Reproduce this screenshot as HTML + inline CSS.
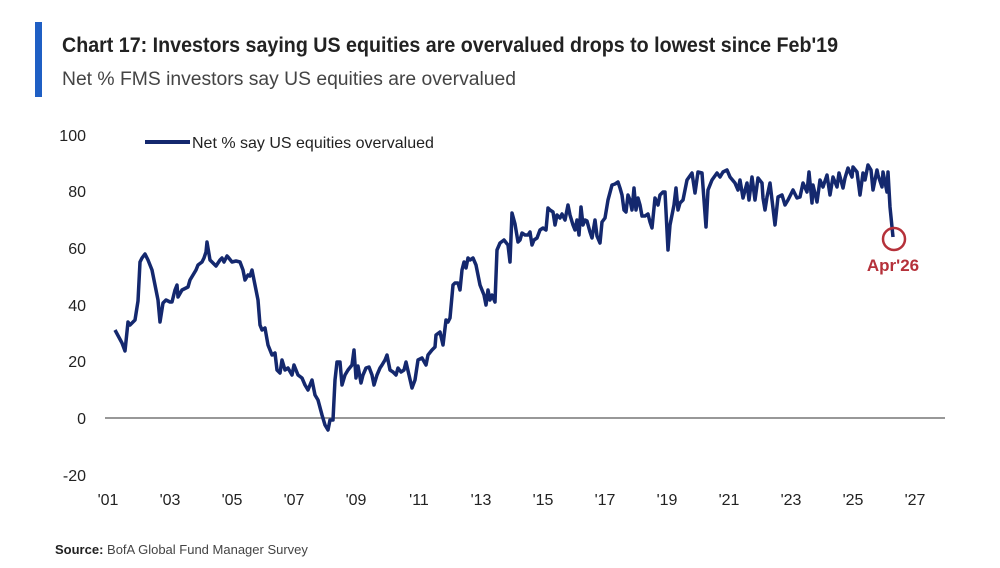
<!DOCTYPE html>
<html><head><meta charset="utf-8"><style>
body{margin:0;background:#fff;width:1000px;height:563px;overflow:hidden;font-family:"Liberation Sans",sans-serif}
</style></head><body>
<svg width="1000" height="563" viewBox="0 0 1000 563" xmlns="http://www.w3.org/2000/svg" font-family="Liberation Sans, sans-serif">
<rect x="35" y="22" width="7" height="75" fill="#1f5fc4"/>
<text x="62" y="52" font-size="21" font-weight="bold" fill="#222" textLength="776" lengthAdjust="spacingAndGlyphs">Chart 17: Investors saying US equities are overvalued drops to lowest since Feb'19</text>
<text x="62" y="85" font-size="19" fill="#444" textLength="454" lengthAdjust="spacingAndGlyphs">Net % FMS investors say US equities are overvalued</text>
<g font-size="16" fill="#222" text-anchor="end">
<text x="86" y="141">100</text><text x="86" y="197">80</text><text x="86" y="254">60</text><text x="86" y="311">40</text><text x="86" y="367">20</text><text x="86" y="424">0</text><text x="86" y="481">-20</text>
</g>
<g font-size="16" fill="#222" text-anchor="middle">
<text x="108" y="505">'01</text><text x="170" y="505">'03</text><text x="232" y="505">'05</text><text x="294" y="505">'07</text><text x="356" y="505">'09</text><text x="419" y="505">'11</text><text x="481" y="505">'13</text><text x="543" y="505">'15</text><text x="605" y="505">'17</text><text x="667" y="505">'19</text><text x="729" y="505">'21</text><text x="791" y="505">'23</text><text x="853" y="505">'25</text><text x="915" y="505">'27</text>
</g>
<line x1="105" y1="418" x2="945" y2="418" stroke="#777" stroke-width="1.5"/>
<line x1="145" y1="142" x2="190" y2="142" stroke="#14286e" stroke-width="4"/>
<text x="192" y="148" font-size="16" fill="#222">Net % say US equities overvalued</text>
<polyline fill="none" stroke="#14286e" stroke-width="3.5" stroke-linejoin="round" points="115,330 122,343 125,351 128,322 130,325 135,320 138,301 140,262 142,258 145,254 148,260 152,270 158,300 160,322 163,303 166,300 170,302 172,302 175,290 177,285 178,297 182,290 188,287 190,280 193,275 196,270 198,265 202,262 204,258 206,252 207,242 210,260 213,263 216,266 220,260 222,258 224,262 227,256 228,257 232,262 236,261 240,262 243,270 245,280 248,275 250,276 252,270 255,285 258,300 260,325 262,330 265,328 268,345 272,355 275,353 277,370 280,373 282,360 285,370 288,368 292,375 294,365 298,375 302,378 305,385 308,390 312,380 315,395 318,400 322,415 325,425 328,430 330,420 333,420 335,380 337,362 340,362 342,385 345,375 348,370 352,365 354,350 356,378 358,366 361,383 363,375 366,368 369,367 372,375 374,385 377,375 380,368 382,365 385,360 387,355 390,370 393,372 396,375 398,368 401,372 404,370 406,362 409,375 412,388 415,380 418,360 422,358 426,365 428,355 432,350 435,347 436,335 440,332 443,345 446,320 448,322 450,318 453,285 455,283 458,283 460,290 462,270 464,262 466,268 468,258 470,260 473,258 476,265 478,275 480,285 482,290 484,295 486,305 488,290 490,300 492,295 495,302 497,250 500,243 504,240 508,245 510,262 512,213 515,224 518,242 520,240 522,233 525,235 528,235 530,232 532,245 534,240 537,238 540,230 543,228 546,230 548,208 550,210 553,212 555,225 557,215 560,218 562,214 565,220 568,205 570,215 573,225 575,230 577,220 579,235 581,207 583,225 585,220 587,221 590,232 592,238 595,220 597,236 600,243 602,222 605,218 608,200 612,185 615,184 618,182 620,188 622,195 624,210 626,212 628,195 630,200 632,210 634,188 636,210 638,198 640,205 642,216 645,216 648,214 650,222 652,228 655,198 658,205 660,195 663,192 665,192 668,250 670,225 672,215 674,205 676,188 678,210 680,203 683,200 687,180 692,173 695,193 698,172 702,173 706,227 708,190 712,180 717,173 720,177 723,172 727,170 730,177 735,183 738,190 740,180 743,198 747,183 749,200 752,177 755,200 758,178 762,183 763,198 765,210 767,197 770,183 775,225 778,197 782,195 785,205 788,200 793,190 797,198 800,197 803,183 807,192 809,172 812,203 813,185 817,202 820,180 823,187 827,175 830,195 833,177 837,187 839,173 843,188 845,178 848,168 852,177 853,167 857,172 860,195 863,173 865,180 868,165 871,170 873,190 877,170 878,175 882,187 883,172 887,192 888,172 890,207 893,237"/>
<circle cx="894" cy="239" r="11" fill="none" stroke="#b5313a" stroke-width="2.5"/>
<text x="893" y="271" font-size="17" font-weight="bold" fill="#b5313a" text-anchor="middle">Apr'26</text>
<text x="55" y="554" font-size="13" fill="#444"><tspan font-weight="bold" fill="#222">Source:</tspan> BofA Global Fund Manager Survey</text>
</svg>
</body></html>
